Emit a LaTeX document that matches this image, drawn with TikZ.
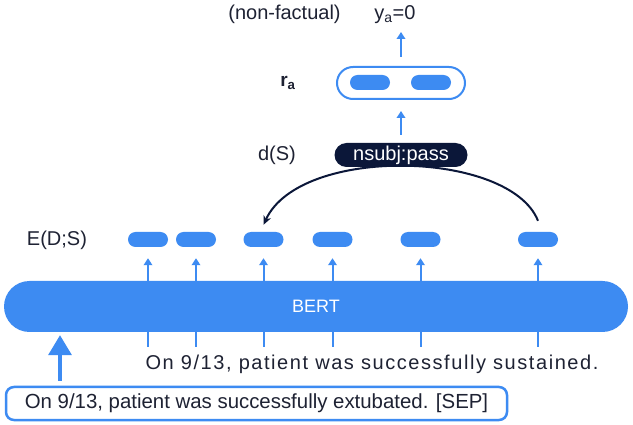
\documentclass[tikz,border=0pt]{standalone}
\usepackage{fontspec}
\setmainfont{Liberation Sans}
\newfontfamily\spaced[LetterSpace=7.8]{Liberation Sans}
\usetikzlibrary{arrows.meta,calc}
\definecolor{blu}{HTML}{3D8BF2}
\definecolor{navy}{HTML}{0B1739}
\definecolor{ink}{HTML}{1E2233}
\begin{document}
\begin{tikzpicture}[x=1pt,y=-1pt, font=\fontsize{20}{24}\selectfont, text=ink,
  pill/.style={fill=blu, minimum width=40pt, minimum height=15pt, rounded corners=7.5pt, inner sep=0pt},
  tok/.style={blu, line width=2pt, -{Triangle[width=8.5pt,length=7pt]}},
  lab/.style={inner sep=0pt, anchor=center}]
\useasboundingbox[fill=white] (0,0) rectangle (633,425);

% top labels
\node[lab] (nf) at (284.5,14.5) {(non-factual)};
\node[lab] (ya) at (395,14.5) {y\textsubscript{a}=0};
\coordinate (yatip) at (401,32);

% r_a
\node[draw=blu, line width=2pt, fill=white, minimum width=128pt, minimum height=32pt, rounded corners=16pt, inner sep=0pt] (ra) at (401,83) {};
\node[pill] (ra1) at (370,82.5) {};
\node[pill] (ra2) at (431,82.5) {};
\node[lab, font=\fontsize{19}{23}\selectfont\bfseries] (ral) at (288,83) {r\textsubscript{a}};

% E(D;S)
\node[lab] (el) at (57,240) {E(D;S)};
\node[pill] (e1) at (148,239.5) {};
\node[pill] (e2) at (196,239.5) {};
\node[pill] (e3) at (263.5,239.5) {};
\node[pill] (e4) at (332.5,239.5) {};
\node[pill] (e5) at (420.5,239.5) {};
\node[pill] (e6) at (538,239.5) {};

% dependency arc (behind the label node)
\draw[navy, line width=2pt, -{Stealth[length=9pt,width=8pt]}]
  ($(e6.north)+(0,-11)$) .. controls (510,150) and (300,145) .. ($(e3.north)+(0,-7)$);

% d(S)
\node[fill=navy, text=white, minimum width=133pt, minimum height=24pt, rounded corners=12pt, inner sep=0pt] (ds) at (401,155) {nsubj:pass};
\node[lab] (dsl) at (277,155) {d(S)};

\draw[tok, shorten <=8pt, shorten >=11pt] (ds.north) -- (ra.south);
\draw[tok, shorten <=9pt] (ra.north) -- (yatip);

% BERT
\node[fill=blu, text=white, minimum width=624pt, minimum height=51pt, rounded corners=25.5pt, inner sep=0pt, font=\fontsize{18}{22}\selectfont] (bert) at (316,306.5) {BERT};

\foreach \e in {e1,e2,e3,e4,e5,e6}{
  \draw[tok, shorten >=11pt] (\e |- bert.north) -- (\e.south);
  \draw[blu, line width=2pt] (\e |- bert.south) -- ++(0,15);
}

% sentences
\node[lab, font=\spaced\fontsize{20}{24}\selectfont] (sus) at (372,364) {On 9/13, patient was successfully sustained.};
\node[draw=blu, line width=2.5pt, fill=white, rounded corners=8pt, minimum width=501pt, minimum height=33pt, inner sep=0pt, font=\fontsize{20.4}{24}\selectfont] (inp) at (256.5,403.5) {On 9/13, patient was successfully extubated. [SEP]};

\coordinate (bigx) at (60,0);
\draw[blu, line width=3.5pt, -{Triangle[width=23pt,length=20pt]}, shorten <=5pt, shorten >=3pt] (inp.north -| bigx) -- (bert.south -| bigx);
\end{tikzpicture}
\end{document}
